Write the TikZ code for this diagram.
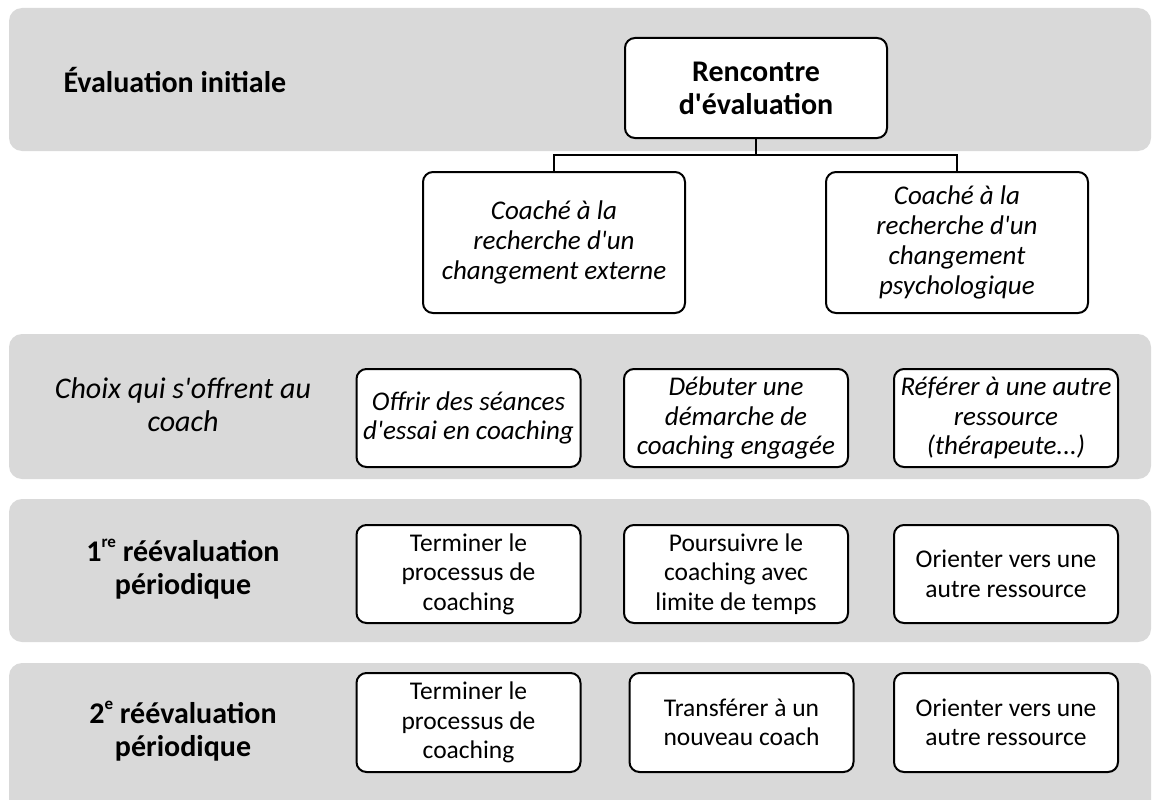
\documentclass[tikz,border=0pt]{standalone}
\usepackage{fontspec}
\newfontfamily\calfont{Carlito}
\newcommand\supx[1]{\raisebox{0.45em}{\fontsize{17}{17}\selectfont #1}}
\begin{document}
\begin{tikzpicture}[x=1pt,y=-1pt,
  band/.style={fill=bandgray,draw=none,rounded corners=13pt},
  box/.style={draw=black,line width=2pt,rounded corners=10pt,fill=white,align=flush center,inner sep=2pt},
  bigbox/.style={box,minimum width=262pt,minimum height=141pt,text width=254pt,font=\calfont\fontsize{27}{30}\selectfont\itshape},
  optbox/.style={box,minimum width=224pt,text width=220pt,font=\calfont\fontsize{25.5}{29.5}\selectfont},
  ioptbox/.style={optbox,font=\calfont\fontsize{27}{29.5}\selectfont\itshape},
  lbl/.style={align=center,font=\calfont\fontsize{30}{33}\selectfont\bfseries},
  conn/.style={draw=black,line width=2pt}]
\definecolor{bandgray}{HTML}{D9D9D9}
\useasboundingbox (0,0) rectangle (1159,800);
\clip (0,0) rectangle (1159,800);
% bands
\fill[band] (9,8) rectangle (1151,151);
\fill[band] (9,334) rectangle (1151,479);
\fill[band] (9,499) rectangle (1151,642);
\fill[band] (9,663) rectangle (1151,815);
% labels
\node[lbl,anchor=west] (l1) at (60,80) {Évaluation initiale};
\node[align=center,font=\calfont\fontsize{30}{33}\selectfont\itshape] (l2) at (183,405) {Choix qui s'offrent au\\coach};
\node[lbl] (l3) at (183,569) {1\supx{re} réévaluation\\périodique};
\node[lbl] (l4) at (183,731) {2\supx{e} réévaluation\\périodique};
% top
\node[box,minimum width=262pt,minimum height=100pt,text width=250pt,font=\calfont\fontsize{30}{33}\selectfont\bfseries] (ren) at (756,88) {Rencontre\\d'évaluation};
\node[bigbox] (ext) at (554,242.5) {Coaché à la\\recherche d'un\\changement externe};
\node[bigbox] (psy) at (957,242.5) {Coaché à la\\recherche d'un\\changement\\psychologique};
\draw[conn] (ren.south) -- ++(0,16) coordinate (j) -| (ext.north);
\draw[conn] (j) -| (psy.north);
% row 2
\node[ioptbox,minimum height=98pt] (c1) at (468.5,418) {Offrir des séances\\d'essai en coaching};
\node[ioptbox,minimum height=98pt] (c2) at (736,418) {Débuter une\\démarche de\\coaching engagée};
\node[ioptbox,minimum height=98pt] (c3) at (1006,418) {Référer à une autre\\ressource\\(thérapeute...)};
% row 3
\node[optbox,minimum height=98pt] (r1) at (468.5,574) {Terminer le\\processus de\\coaching};
\node[optbox,minimum height=98pt] (r2) at (736,574) {Poursuivre le\\coaching avec\\limite de temps};
\node[optbox,minimum height=98pt] (r3) at (1006,574) {Orienter vers une\\autre ressource};
% row 4
\node[optbox,minimum height=99pt] (s1) at (468.5,722.5) {Terminer le\\processus de\\coaching};
\node[optbox,minimum height=99pt] (s2) at (741.5,722.5) {Transférer à un\\nouveau coach};
\node[optbox,minimum height=99pt] (s3) at (1006,722.5) {Orienter vers une\\autre ressource};
\end{tikzpicture}
\end{document}
